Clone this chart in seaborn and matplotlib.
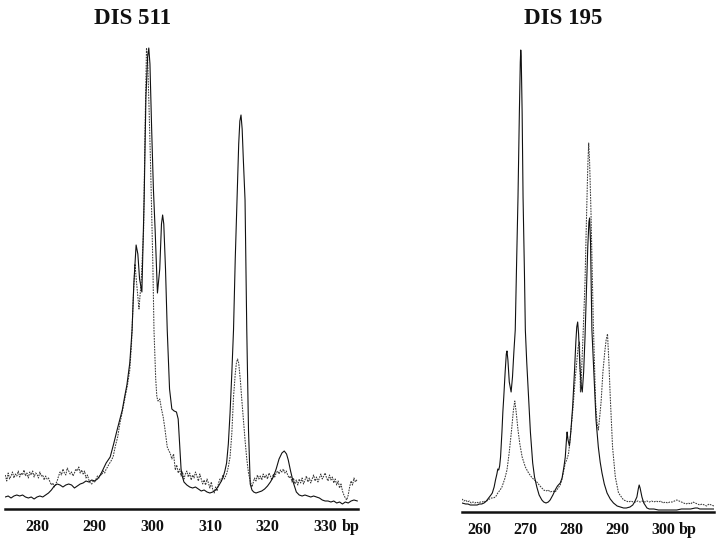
import matplotlib
matplotlib.use("Agg")
import matplotlib.pyplot as plt
import seaborn as sns
import pandas as pd

# ---------------- data ----------------
titles = ["DIS 511", "DIS 195"]

ticks_511 = [280, 290, 300, 310, 320, 330]
ticks_195 = [260, 270, 280, 290, 300]

# DIS 511 - solid trace
s511_x = [274.5, 275, 275.5, 276, 276.5, 277, 277.5, 278, 278.5, 279, 279.5, 280, 280.5, 281, 281.5, 282,
          282.5, 283, 283.5, 284, 284.5, 285, 285.5, 286, 286.5, 287, 287.5, 288, 288.5, 289, 289.5, 290,
          290.5, 291, 291.5, 292, 292.7, 293.3, 293.9, 294.4, 294.8, 295.2, 295.6, 296.1, 296.5, 296.8,
          297.2, 297.5, 297.8, 298.2, 298.6, 298.9, 299.2, 299.4, 299.6, 299.9, 300.2, 300.5, 300.9,
          301.3, 301.6, 301.8, 302.0, 302.3, 302.6, 303.0, 303.4, 303.8, 304.2, 304.5, 304.8, 305.0,
          305.2, 305.5, 306, 306.5, 307, 307.5, 308, 308.5, 309, 309.5, 310, 310.5, 311, 311.5, 312,
          312.3, 312.6, 312.9, 313.2, 313.5, 313.8, 314.1, 314.4, 314.7, 315.0, 315.2, 315.4, 315.6,
          315.8, 316.1, 316.4, 316.7, 317.0, 317.3, 317.6, 318, 318.5, 319, 319.5, 320, 320.5, 321,
          321.5, 322, 322.5, 322.9, 323.3, 323.6, 324, 324.5, 325, 325.5, 326, 326.5, 327, 327.5, 328,
          328.5, 329, 329.5, 330, 330.5, 331, 331.5, 332, 332.5, 333, 333.5, 334, 334.5, 335, 335.6]
s511_y = [12, 13, 11, 13, 14, 13, 14, 12, 11, 12, 10, 12, 13, 12, 14, 16,
          19, 23, 25, 24, 22, 24, 25, 24, 21, 23, 25, 26, 28, 27, 29, 28,
          30, 34, 40, 46, 52, 65, 79, 90, 99, 112, 124, 146, 179, 225,
          264, 255, 230, 217, 312, 412, 452, 461, 445, 379, 320, 279, 216,
          240, 285, 294, 285, 240, 179, 120, 100, 98, 97, 90, 60, 40,
          33, 27, 24, 22, 21, 22, 20, 18, 19, 17, 16, 17, 19, 23, 28,
          32, 38, 46, 65, 96, 135, 179, 250, 309, 365, 388, 394, 380,
          350, 309, 179, 79, 25, 19, 17, 16, 17, 18, 20, 23, 27, 32,
          40, 50, 56, 58, 55, 49, 38, 26, 17, 14, 13, 14, 13, 12, 13,
          12, 11, 9, 8, 8, 7, 8, 6, 7, 5, 7, 6, 8, 9, 8]

# DIS 511 - dashed trace
d511_x = [274.5, 274.75, 275, 275.25, 275.5, 275.75, 276, 276.25, 276.5, 276.75, 277, 277.25, 277.5,
          277.75, 278, 278.25, 278.5, 278.75, 279, 279.25, 279.5, 279.75, 280, 280.25, 280.5, 280.75,
          281, 281.25, 281.5, 281.75, 282, 282.25, 282.5, 282.75, 283, 283.25, 283.5, 283.75, 284,
          284.25, 284.5, 284.75, 285, 285.25, 285.5, 285.75, 286, 286.25, 286.5, 286.75, 287, 287.25,
          287.5, 287.75, 288, 288.25, 288.5, 288.75, 289, 289.25, 289.5, 289.75, 290, 290.25, 290.5,
          290.75, 291, 291.25, 291.5, 291.75, 292, 292.25, 292.5, 292.75, 293.2, 293.6, 294.0, 294.4,
          294.8, 295.3, 295.7, 296.1, 296.4, 296.7, 297.0, 297.3, 297.7, 298.1, 298.5, 298.75, 299.0,
          299.2, 299.45, 299.7, 300.1, 300.3, 300.6, 300.8, 301.0, 301.3, 301.6, 301.9, 302.2, 302.6,
          302.9, 303.1, 303.4, 303.7, 304.0, 304.25, 304.5, 304.75, 305, 305.25, 305.5, 305.75, 306,
          306.25, 306.5, 306.75, 307, 307.25, 307.5, 307.75, 308, 308.25, 308.5, 308.75, 309, 309.25,
          309.5, 309.75, 310, 310.25, 310.5, 310.75, 311, 311.25, 311.5, 311.75, 312, 312.25, 312.5,
          312.9, 313.2, 313.5, 313.8, 314.1, 314.4, 314.6, 314.8, 315.0, 315.3, 315.5, 315.8, 316.1,
          316.4, 316.7, 317.0, 317.3, 317.5, 317.75, 318, 318.25, 318.5, 318.75, 319, 319.25, 319.5,
          319.75, 320, 320.25, 320.5, 320.75, 321, 321.25, 321.5, 321.75, 322, 322.25, 322.5, 322.75,
          323, 323.25, 323.5, 323.75, 324, 324.25, 324.5, 324.75, 325, 325.25, 325.5, 325.75, 326,
          326.25, 326.5, 326.75, 327, 327.25, 327.5, 327.75, 328, 328.25, 328.5, 328.75, 329, 329.25,
          329.5, 329.75, 330, 330.25, 330.5, 330.75, 331, 331.25, 331.5, 331.75, 332, 332.25, 332.5,
          332.75, 333, 333.25, 333.5, 333.75, 334, 334.25, 334.5, 334.75, 335, 335.25, 335.6]
d511_y = [34, 28, 36, 30, 33, 37, 31, 35, 33, 38, 32, 36, 34,
          39, 33, 36, 31, 37, 34, 38, 32, 36, 35, 31, 37, 33,
          34, 29, 33, 30, 31, 27, 24, 26, 22, 25, 28, 33, 37,
          34, 40, 36, 34, 41, 38, 35, 37, 33, 36, 40, 38, 42,
          36, 39, 35, 38, 31, 34, 29, 26, 25, 28, 27, 30, 33,
          31, 35, 34, 38, 36, 40, 42, 45, 47, 52, 63, 72, 86,
          97, 112, 124, 139, 165, 210, 245, 225, 200, 230, 279, 379, 461,
          450, 400, 346, 246, 179, 130, 112, 108, 110, 100, 92, 80, 62,
          58, 56, 50, 55, 39, 44, 36, 40, 33, 37, 30, 35, 38,
          32, 36, 29, 34, 31, 37, 33, 28, 35, 30, 25, 29, 24,
          30, 26, 21, 27, 19, 16, 22, 18, 26, 30, 28, 34, 30,
          35, 42, 52, 75, 112, 135, 146, 150, 146, 128, 112, 90, 69,
          50, 36, 28, 22, 26, 31, 28, 34, 30, 33, 29, 35, 31,
          34, 30, 36, 33, 29, 35, 32, 36, 38, 35, 39, 37, 40,
          36, 38, 34, 31, 33, 27, 31, 25, 29, 24, 30, 26, 31,
          25, 29, 33, 27, 31, 26, 30, 34, 28, 32, 27, 31, 35,
          30, 33, 36, 31, 28, 34, 29, 32, 26, 30, 24, 28, 21,
          25, 18, 14, 11, 9, 14, 22, 28, 24, 31, 27, 30]

# DIS 195 - solid trace
s195_x = [256.2, 257, 257.5, 258, 258.5, 259, 259.5, 260, 260.5, 261, 261.5, 262, 262.5, 262.8, 263.2,
          263.5, 263.8, 264.0, 264.2, 264.4, 264.6, 264.9, 265.1, 265.3, 265.6, 265.85, 266.0, 266.2,
          266.5, 266.9, 267.2, 267.5, 267.8, 268.1, 268.4, 268.7, 268.9, 269.0, 269.1, 269.3, 269.5,
          269.8, 270.0, 270.3, 270.7, 271.1, 271.6, 272.0, 272.5, 273.0, 273.6, 274.0, 274.5, 275.0,
          275.4, 276.0, 276.5, 277.0, 277.6, 278.0, 278.4, 278.7, 279.0, 279.1, 279.3, 279.6, 279.9,
          280.3, 280.7, 281.0, 281.2, 281.4, 281.6, 281.9, 282.2, 282.4, 282.7, 283.0, 283.3, 283.6,
          283.85, 284.0, 284.2, 284.5, 285.0, 285.4, 285.9, 286.3, 286.7, 287.2, 287.8, 288.5, 289.2,
          290, 290.7, 291.4, 292.0, 292.8, 293.4, 293.8, 294.3, 294.6, 294.8, 295.0, 295.4, 295.8,
          296.5, 297, 298, 299, 300, 301, 302, 303, 304, 305, 306, 307, 307.5, 308, 309, 310, 311.1]
s195_y = [9, 8, 8, 7, 7, 7, 7, 8, 8, 9, 11, 14, 17, 19, 25,
          32, 38, 43, 42, 46, 55, 80, 100, 115, 140, 158, 161, 152,
          130, 120, 135, 160, 182, 250, 315, 400, 450, 462, 455, 400, 315,
          240, 182, 150, 115, 80, 49, 35, 25, 17, 12, 10, 9, 10,
          12, 17, 22, 26, 29, 34, 45, 55, 75, 80, 72, 66, 80,
          105, 140, 170, 185, 190, 178, 145, 125, 120, 140, 175, 220, 265,
          290, 294, 270, 182, 132, 92, 65, 50, 39, 28, 19, 13, 9,
          6, 5, 4, 4, 5, 7, 10, 15, 23, 27, 24, 15, 9,
          4, 3, 3, 2, 2, 2, 2, 2, 3, 3, 3, 4, 4, 3, 3, 3, 3]

# DIS 195 - dashed trace
d195_x = [256.2, 256.6, 257, 257.4, 257.8, 258.2, 258.6, 259, 259.4, 259.8, 260.2, 260.6, 261, 261.4,
          261.8, 262.2, 262.6, 263.0, 263.5, 264.0, 264.5, 264.9, 265.5, 266.0, 266.5, 267.0, 267.4,
          267.7, 268.0, 268.4, 268.8, 269.3, 270.0, 270.7, 271.5, 272.5, 273.2, 274.0, 274.5, 275.0,
          275.4, 276.0, 276.5, 277.0, 277.6, 278.0, 278.4, 278.7, 279.0, 279.4, 279.7, 280.0, 280.4,
          280.8, 281.2, 281.5, 281.8, 282.0, 282.2, 282.6, 283.0, 283.3, 283.6, 283.8, 284.0, 284.3,
          284.8, 285.3, 285.6, 285.9, 286.2, 286.5, 286.9, 287.3, 287.6, 287.9, 288.2, 288.5, 289.0,
          289.6, 290.3, 291.4, 292.0, 292.5, 293.0, 293.5, 294.0, 294.5, 295, 295.5, 296, 296.5, 297,
          297.5, 298, 298.5, 299, 299.5, 300, 300.5, 301, 301.5, 302, 302.5, 303, 303.5, 304, 304.5,
          305, 305.5, 306, 306.5, 307, 307.5, 308, 308.5, 309, 309.5, 310, 310.5, 311.1]
d195_y = [13, 11, 12, 10, 11, 9, 10, 9, 10, 9, 10, 10, 11, 10,
          12, 13, 14, 14, 15, 19, 22, 25, 33, 42, 60, 82, 102,
          111, 100, 82, 68, 55, 45, 39, 34, 30, 26, 22, 21, 22,
          20, 21, 20, 23, 27, 33, 42, 49, 52, 58, 70, 85, 105,
          130, 150, 165, 170, 120, 135, 180, 230, 290, 345, 369, 350, 300,
          190, 110, 90, 82, 95, 110, 140, 160, 172, 178, 150, 115, 65,
          35, 19, 12, 11, 10, 11, 10, 10, 11, 10, 11, 10, 11, 10,
          11, 10, 11, 10, 11, 9, 10, 9, 10, 10, 11, 12, 11, 10, 9,
          8, 9, 8, 10, 9, 8, 7, 8, 7, 6, 8, 7, 6]

# ---------------- style ----------------
sns.set_style("white")
plt.rcParams["font.family"] = ["Liberation Serif", "DejaVu Serif"]
plt.rcParams["font.weight"] = "bold"

fig = plt.figure(figsize=(7.2, 5.4), dpi=100)
ax1 = fig.add_axes([5 / 720, 31 / 540, 353 / 720, 464 / 540])
ax2 = fig.add_axes([462 / 720, 28 / 540, 252 / 720, 467 / 540])

panels = [
    (ax1, s511_x, s511_y, d511_x, d511_y, ticks_511, (274.45, 335.7), 464, 334.4, titles[0], 132),
    (ax2, s195_x, s195_y, d195_x, d195_y, ticks_195, (256.2, 311.1), 467, 305.4, titles[1], 563),
]

for ax, sx, sy, dx, dy, ticks, xlim, ytop, bpx, title, tx in panels:
    dfs = pd.DataFrame({"bp": sx, "signal": sy})
    dfd = pd.DataFrame({"bp": dx, "signal": dy})
    sns.lineplot(data=dfd, x="bp", y="signal", ax=ax, color="#3a3a3a", lw=0.75,
                 linestyle=(0, (1.6, 1.0)), estimator=None, sort=False)
    sns.lineplot(data=dfs, x="bp", y="signal", ax=ax, color="#111111", lw=0.8,
                 estimator=None, sort=False)
    ax.set_xlim(*xlim)
    ax.set_ylim(0, ytop)
    ax.set_xticks(ticks)
    ax.set_xticklabels([str(t) for t in ticks], fontsize=11.5, fontweight="bold")
    ax.set_yticks([])
    ax.set_xlabel("")
    ax.set_ylabel("")
    for side in ["top", "left", "right"]:
        ax.spines[side].set_visible(False)
    ax.spines["bottom"].set_linewidth(1.8)
    ax.spines["bottom"].set_color("#111111")
    ax.tick_params(axis="x", direction="out", length=3, width=1, pad=4, colors="#111111")
    ax.patch.set_alpha(0)
    ax.annotate("bp", xy=(bpx, 0), xycoords=("data", "axes fraction"),
                xytext=(0, -7), textcoords="offset points", ha="center", va="top",
                fontsize=11.5, fontweight="bold", color="#111111")
    fig.text(tx / 720, 1 - 18 / 540, title, ha="center", va="center",
             fontsize=16.5, fontweight="bold", color="#111111")

fig.savefig("out.png", dpi=100)
